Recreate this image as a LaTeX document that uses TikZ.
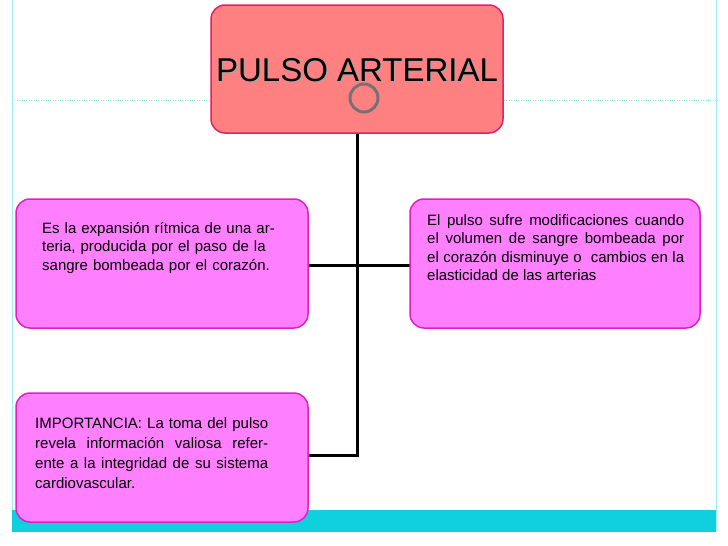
\documentclass[tikz,border=0pt]{standalone}
\usepackage{fontspec}
\setmainfont{Liberation Sans}
\definecolor{pinkbox}{HTML}{FF80FF}
\definecolor{pinkedge}{HTML}{E020C0}
\definecolor{titlefill}{HTML}{FF8080}
\definecolor{titleedge}{HTML}{E0206A}
\definecolor{cyanband}{HTML}{10D0E0}
\newcommand\nohyph{\hyphenpenalty=10000 \exhyphenpenalty=10000 }
\begin{document}
\begin{tikzpicture}[x=1pt,y=-1pt,
  box/.style={draw=pinkedge,fill=pinkbox,line width=1.5pt,rounded corners=14pt},
  conn/.style={line width=3pt},
  txt/.style={anchor=north west,inner sep=0pt,font=\fontsize{15}{18.6}\selectfont}]
\useasboundingbox (0,0) rectangle (728,546);
\fill[white] (0,0) rectangle (728,546);
\draw[cyanband!50,dotted] (12,100) -- (716,100);
\draw[cyanband!40] (12,0) -- (12,530) (716,0) -- (716,530);
\fill[cyanband] (12,510) rectangle (716,532);
\coordinate (top) at (357,133);
\coordinate (jb) at (357,455);
\draw[conn] (top) -- (jb) -- (308,455);
\draw[conn] (308,265) -- (410,265);
\draw[draw=titleedge,fill=titlefill,line width=1.5pt,rounded corners=14pt] (211,5) rectangle (503,133);
\node at (358,71) {\fontsize{33}{38}\selectfont\textcolor{black!35}{PULSO ARTERIAL}};
\node (title) at (357,70) {\fontsize{33}{38}\selectfont PULSO ARTERIAL};
\draw[black!55,line width=3pt] (364,98) circle (14);
\draw[box] (16,199) rectangle (308,328);
\draw[box] (410,199) rectangle (700,328);
\draw[box] (16,393) rectangle (308,522);
\node[txt,text width=240pt,align=left] (l) at (42,222)
 {\nohyph Es la expansión rítmica de una arteria, producida por el paso de la sangre bombeada por el corazón.};
\node[txt,text width=257pt,align=justify] (r) at (427,214)
 {\nohyph El pulso sufre modificaciones cuando el volumen de sangre bombeada por el corazón disminuye o \ cambios en la elasticidad de las arterias};
\node[txt,text width=233pt,align=justify,font=\fontsize{15}{20}\selectfont] (b) at (35,417)
 {\nohyph IMPORTANCIA: La toma del pulso revela información valiosa referente a la integridad de su sistema cardiovascular.};
\end{tikzpicture}
\end{document}
